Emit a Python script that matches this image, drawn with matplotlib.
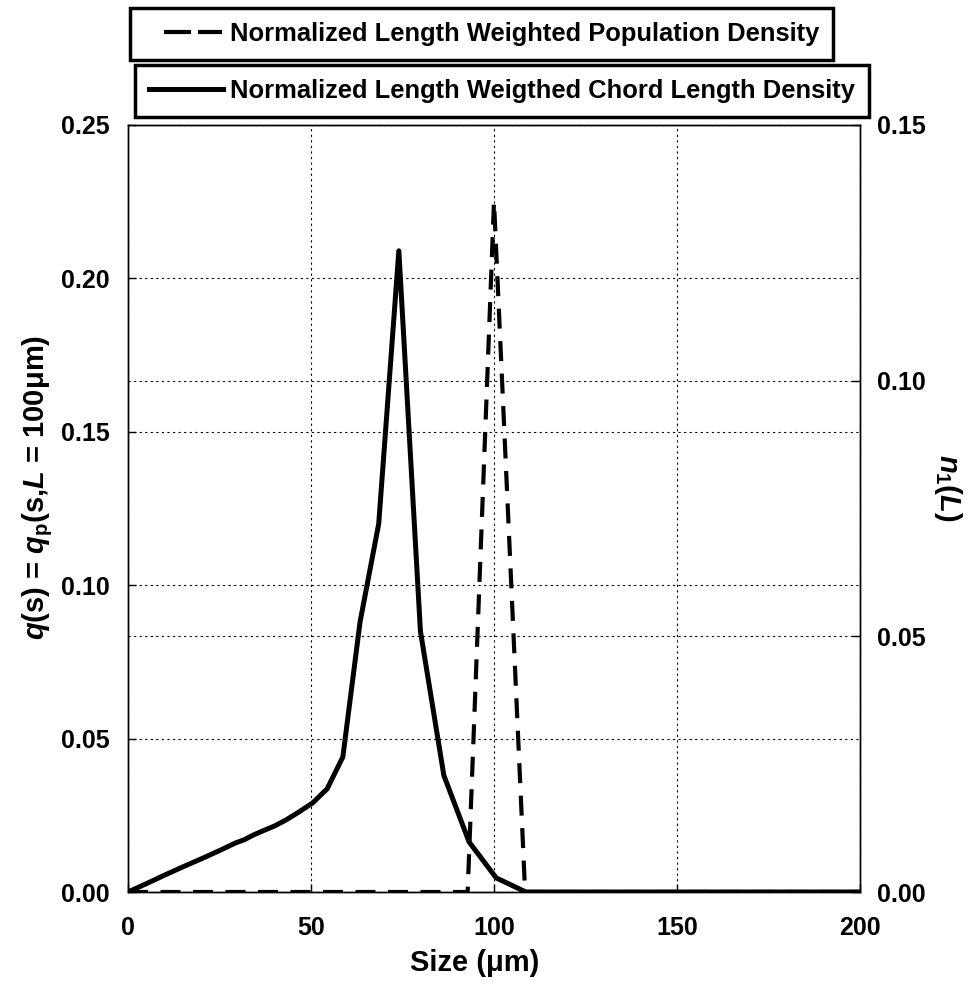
import matplotlib
matplotlib.use('Agg')
import matplotlib.pyplot as plt
from matplotlib.lines import Line2D

plt.rcParams['font.family'] = ['Liberation Sans', 'DejaVu Sans']
plt.rcParams['font.weight'] = 'bold'
plt.rcParams['axes.labelweight'] = 'bold'
plt.rcParams['mathtext.fontset'] = 'custom'
plt.rcParams['mathtext.rm'] = 'Liberation Sans:bold'
plt.rcParams['mathtext.it'] = 'Liberation Sans:bold:italic'
plt.rcParams['mathtext.bf'] = 'Liberation Sans:bold'

# Chord length density (left axis)
chord_size = [0, 5, 10, 15, 20, 25, 29.4, 31.7, 34.3, 37.0, 40.0, 43.2, 46.6, 50.4,
              54.4, 58.7, 63.4, 68.5, 74.0, 79.9, 86.3, 93.2, 100.6, 108.7, 200]
chord_density = [0, 0.0027, 0.0055, 0.0082, 0.0108, 0.0135, 0.0160, 0.0170, 0.0186,
                 0.0200, 0.0215, 0.0235, 0.0260, 0.0290, 0.0336, 0.044, 0.088, 0.120,
                 0.209, 0.085, 0.038, 0.0163, 0.0046, 0, 0]

# Population density (right axis)
pop_size = [0, 92.8, 100.0, 108.5, 200]
pop_density = [0, 0, 0.135, 0, 0]

DASH = (0, (4.8, 3))

fig = plt.figure(figsize=(9.77, 9.88), dpi=100)
ax = fig.add_axes([128/977, 96/988, 732/977, 767/988])
ax2 = ax.twinx()

ax.plot(chord_size, chord_density, color='black', lw=3.6, zorder=3)
ax2.plot(pop_size, pop_density, color='black', lw=3.0, ls=DASH, zorder=3)

ax.set_xlim(0, 200)
ax.set_ylim(0, 0.25)
ax2.set_ylim(0, 0.15)
ax.set_xticks([0, 50, 100, 150, 200])
ax.set_yticks([0, 0.05, 0.10, 0.15, 0.20, 0.25])
ax.set_yticklabels(['0.00', '0.05', '0.10', '0.15', '0.20', '0.25'])
ax2.set_yticks([0, 0.05, 0.10, 0.15])
ax2.set_yticklabels(['0.00', '0.05', '0.10', '0.15'])

ax.tick_params(axis='y', direction='in', length=6, width=1, labelsize=18, pad=13.5)
ax.tick_params(axis='x', direction='in', length=6, width=1, labelsize=18, pad=17)
ax2.tick_params(axis='y', direction='in', length=6, width=1, labelsize=18, pad=12)
for a in (ax, ax2):
    for s in a.spines.values():
        s.set_linewidth(1.0)

ax.grid(True, ls=(0, (2, 3)), color='black', lw=0.8)
ax2.grid(True, axis='y', ls=(0, (2, 3)), color='black', lw=0.8)
ax.set_axisbelow(True)

ax.set_xlabel('Size (\u03bcm)', fontsize=21)
ax.xaxis.set_label_coords(0.474, -0.074)
ax.set_ylabel(r'$q$(s) = $q_\mathregular{p}$(s,$L$ = 100' + '\u03bcm)', fontsize=21)
ax.yaxis.set_label_coords(-0.1, 0.527)
ax2.set_ylabel(r'$n_\mathregular{1}$($L$)', fontsize=21, rotation=270)
ax2.yaxis.set_label_coords(1.099, 0.527)
ax2.yaxis.label.set_va('bottom')

w = 3.0 * 100 / 72  # legend dash line width in px
h1 = Line2D([], [], color='black', lw=3.0,
            ls=(61 / w, (27 / w, 7 / w, 27 / w, 20 / w)))
h2 = Line2D([], [], color='black', lw=3.6)
leg1 = fig.legend(handles=[h1], labels=['Normalized Length Weighted Population Density'],
                  loc='upper left', bbox_to_anchor=(130/977, 1 - 8/988), fontsize=18.4,
                  fancybox=False, edgecolor='black', framealpha=1, handlelength=3.05,
                  borderpad=0.55, borderaxespad=0, handletextpad=0.3)
leg1.get_frame().set_linewidth(2.5)
leg2 = fig.legend(handles=[h2], labels=['Normalized Length Weigthed Chord Length Density'],
                  loc='upper left', bbox_to_anchor=(135/977, 1 - 65/988), fontsize=18.4,
                  fancybox=False, edgecolor='black', framealpha=1, handlelength=2.9,
                  borderpad=0.55, borderaxespad=0, handletextpad=0.27)
leg2.get_frame().set_linewidth(2.5)

fig.savefig('out.png', dpi=100)
